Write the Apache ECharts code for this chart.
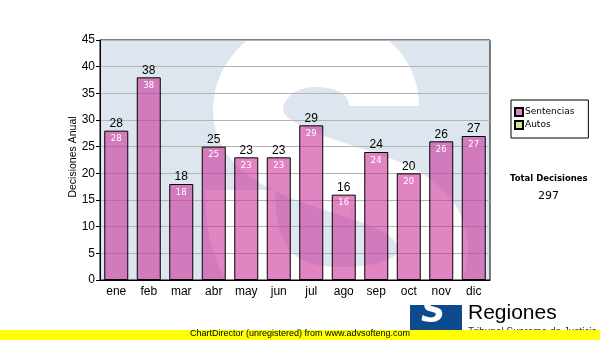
<!DOCTYPE html>
<html><head><meta charset="utf-8">
<script src="https://cdn.jsdelivr.net/npm/echarts@6/dist/echarts.min.js"></script>
<style>html,body{margin:0;padding:0;background:#fff}#c{width:600px;height:340px}</style>
</head><body><div id="c"></div>
<script>
var categories = ['ene','feb','mar','abr','may','jun','jul','ago','sep','oct','nov','dic'];
var sentencias = [28,38,18,25,23,23,29,16,24,20,26,27];
var autos = [];
var totalLabel = 'Total Decisiones';
var totalValue = '297';
var yName = 'Decisiones Anual';

var G = {left:100, top:40, width:390, height:240};
// watermark "S" drawn as a thick white stroke (decoration only)
var sSegs = [
  [384,106, 384,72, 355,52, 315,52],
  [315,52, 275,52, 248,80, 248,110],
  [248,110, 248,150, 300,165, 360,185],
  [360,185, 410,200, 433,220, 433,250],
  [433,250, 433,285, 395,302, 340,302],
  [340,302, 285,302, 240,280, 240,190]
];
var graphics = [
  {type:'rect', z:-10, shape:{x:G.left, y:G.top, width:G.width, height:G.height}, style:{fill:'#dde6ef'}}
];
sSegs.forEach(function(s){
  graphics.push({type:'bezierCurve', z:-9,
    shape:{x1:s[0], y1:s[1], cpx1:s[2], cpy1:s[3], cpx2:s[4], cpy2:s[5], x2:s[6], y2:s[7]},
    style:{fill:null, stroke:'#ffffff', lineWidth:70, lineCap:'butt'}});
});
graphics = graphics.concat([
  {type:'rect', z:-8, shape:{x:0, y:0, width:600, height:G.top}, style:{fill:'#fff'}},
  {type:'rect', z:-8, shape:{x:0, y:G.top+G.height, width:600, height:340-G.top-G.height}, style:{fill:'#fff'}},
  {type:'rect', z:-8, shape:{x:G.left+G.width, y:0, width:600-G.left-G.width, height:340}, style:{fill:'#fff'}},
  {type:'rect', z:-8, shape:{x:0, y:0, width:G.left, height:340}, style:{fill:'#fff'}},
  {type:'text', z:1, x:73, y:157, rotation:Math.PI/2,
   style:{text:yName, fill:'#000', font:'10.5px "Liberation Sans"', align:'center', verticalAlign:'middle'}},
  {type:'text', left:510, top:174, style:{text:totalLabel, fill:'#000', font:'bold 8.5px "DejaVu Sans"'}},
  {type:'text', left:538, top:191, style:{text:totalValue, fill:'#000', font:'11px "DejaVu Sans"'}},
  {type:'rect', z:1, shape:{x:410, y:305, width:52, height:26}, style:{fill:'#0d4a8e'}},
  {type:'text', z:2, left:421, top:296, style:{text:'S', fill:'#fff', font:'italic bold 34px "DejaVu Sans"'}},
  {type:'text', z:1, left:468, top:303, style:{text:'Regiones', fill:'#000', font:'21px "Liberation Sans"'}},
  {type:'text', z:1, left:468, top:327, style:{text:'Tribunal Supremo de Justicia', fill:'#333', font:'10px "Liberation Sans"'}},
  {type:'rect', z:10, shape:{x:0, y:330, width:600, height:10}, style:{fill:'#ffff00'}},
  {type:'text', z:11, left:190, top:329, style:{text:'ChartDirector (unregistered) from www.advsofteng.com', fill:'#000', font:'9px "Liberation Sans"'}}
]);

var chart = echarts.init(document.getElementById('c'), null, {renderer:'canvas'});
chart.setOption({
  animation:false,
  backgroundColor:'#ffffff',
  grid:{left:G.left, top:G.top, width:G.width, height:G.height, show:true, borderColor:'#000', borderWidth:1, backgroundColor:'transparent'},
  legend:{
    orient:'vertical', left:511, top:100, width:80,
    data:['Sentencias','Autos'],
    borderColor:'#000', borderWidth:1, padding:[7,14,8,3],
    itemWidth:8, itemHeight:8, itemGap:3, icon:'rect',
    textStyle:{fontFamily:'DejaVu Sans', fontSize:9, color:'#000', padding:[0,0,0,-3]}
  },
  xAxis:{
    type:'category', data:categories,
    axisLine:{lineStyle:{color:'#000', width:1}},
    axisTick:{alignWithLabel:true, length:3, lineStyle:{color:'#000'}},
    axisLabel:{color:'#000', fontFamily:'Liberation Sans', fontSize:12, margin:6}
  },
  yAxis:{
    type:'value', min:0, max:45, interval:5,
    axisLine:{show:true, lineStyle:{color:'#000'}},
    axisTick:{show:true, length:4, lineStyle:{color:'#000'}},
    axisLabel:{color:'#000', fontFamily:'Liberation Sans', fontSize:12, margin:5},
    splitLine:{lineStyle:{color:'#b4b4b4', width:1}}
  },
  graphic:graphics,
  series:[
    {name:'Sentencias', type:'bar', data:sentencias, barWidth:24, barGap:'-100%',
     itemStyle:{color:'rgba(204,51,153,0.6)', borderColor:'#000', borderWidth:1},
     label:{show:true, position:'top', distance:1, color:'#000', fontFamily:'Liberation Sans', fontSize:12}},
    {name:'_in', type:'bar', data:sentencias, barWidth:24, barGap:'-100%', silent:true,
     itemStyle:{color:'rgba(0,0,0,0)'},
     label:{show:true, position:'insideTop', distance:4, color:'#fff', fontFamily:'DejaVu Sans', fontSize:8.5}},
    {name:'Autos', type:'bar', data:autos, barWidth:24, barGap:'-100%',
     itemStyle:{color:'#cce899', borderColor:'#000', borderWidth:1}}
  ]
});
</script></body></html>
